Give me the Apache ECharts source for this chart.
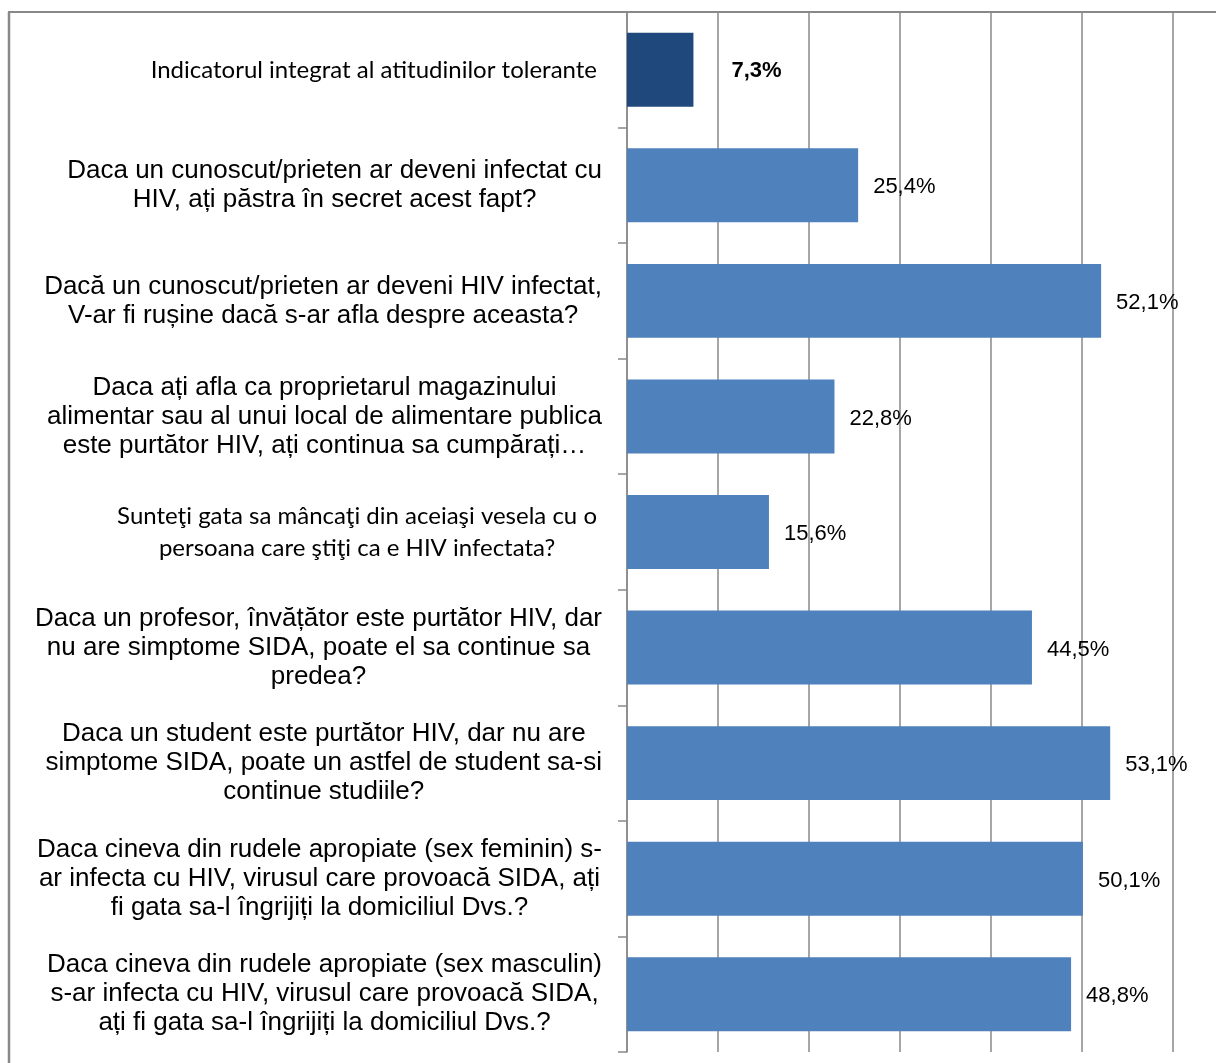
<!DOCTYPE html>
<html>
<head>
<meta charset="utf-8">
<script src="https://cdn.jsdelivr.net/npm/echarts@6/dist/echarts.min.js"></script>
<style>
  html, body { margin: 0; padding: 0; background: #fff; }
  #main { width: 1216px; height: 1063px; }
</style>
</head>
<body>
<div id="main"></div>
<script>
// categories, top to bottom
const categories = [
    'Indicatorul integrat al atitudinilor tolerante',
    'Daca un cunoscut/prieten ar deveni infectat cu\nHIV, ați păstra în secret acest fapt?',
    'Dacă un cunoscut/prieten ar deveni HIV infectat,\nV-ar fi rușine dacă s-ar afla despre aceasta?',
    'Daca ați afla ca proprietarul magazinului\nalimentar sau al unui local de alimentare publica\neste purtător HIV, ați continua sa cumpărați…',
    'Sunteţi gata sa mâncaţi din aceiaşi vesela cu o\npersoana care ştiţi ca e HIV infectata?',
    'Daca un profesor, învățător este purtător HIV, dar\nnu are simptome SIDA, poate el sa continue sa\npredea?',
    'Daca un student este purtător HIV, dar nu are\nsimptome SIDA, poate un astfel de student sa-si\ncontinue studiile?',
    'Daca cineva din rudele apropiate (sex feminin) s-\nar infecta cu HIV, virusul care provoacă SIDA, ați\nfi gata sa-l îngrijiți la domiciliul Dvs.?',
    'Daca cineva din rudele apropiate (sex masculin)\ns-ar infecta cu HIV, virusul care provoacă SIDA,\nați fi gata sa-l îngrijiți la domiciliul Dvs.?'
];
const values = [7.3, 25.4, 52.1, 22.8, 15.6, 44.5, 53.1, 50.1, 48.8];
// which label font each category uses (c = calibri-like, a = arial-like)
const labelFonts = ['c', 'a', 'a', 'a', 'c', 'a', 'a', 'a', 'a'];

const chart = echarts.init(document.getElementById('main'), null, { renderer: 'canvas' });

const pct = v => v.toFixed(1).replace('.', ',') + '%';

const seriesData = values.map((v, i) => {
    if (i === 0) {
        return {
            value: v,
            itemStyle: { color: '#1F497D' },
            label: { fontWeight: 'bold', fontSize: 22, distance: 38, offset: [0, 1] }
        };
    }
    return v;
});

const option = {
    backgroundColor: '#fff',
    animation: false,
    grid: { left: 627, top: 12, width: 637, bottom: 11, outerBoundsMode: 'none', containLabel: false },
    xAxis: {
        type: 'value',
        min: 0,
        max: 70,
        interval: 10,
        axisLine: { show: false },
        axisTick: { show: false },
        axisLabel: { show: false },
        splitLine: { show: true, lineStyle: { color: '#898989', width: 1.5 } }
    },
    yAxis: {
        type: 'category',
        inverse: true,
        data: categories,
        axisLine: { show: true, lineStyle: { color: '#898989', width: 1.5 } },
        axisTick: { show: true, length: 9, lineStyle: { color: '#898989', width: 1.5 } },
        axisLabel: {
            margin: 25,
            align: 'right',
            formatter: (val, idx) => val.split('\n').map(l => '{' + labelFonts[idx] + '|' + l + '}').join('\n'),
            rich: {
                a: { fontFamily: 'Liberation Sans', fontSize: 26, lineHeight: 29, color: '#000', align: 'center' },
                c: { fontFamily: 'Lato', fontSize: 24, lineHeight: 32, color: '#000', align: 'center', padding: [0, 5, 0, 0] }
            }
        }
    },
    series: [{
        type: 'bar',
        data: seriesData,
        barCategoryGap: '36%',
        itemStyle: { color: '#4F81BD' },
        label: {
            show: true,
            position: 'right',
            distance: 15,
            offset: [0, 2],
            fontFamily: 'Liberation Sans',
            fontSize: 22,
            color: '#000',
            formatter: p => pct(p.value)
        }
    }],
    graphic: [
        { type: 'line', shape: { x1: 9, y1: 12, x2: 9, y2: 1063 }, style: { stroke: '#898989', lineWidth: 2.5 } },
        { type: 'line', shape: { x1: 8, y1: 12, x2: 1216, y2: 12 }, style: { stroke: '#898989', lineWidth: 2 } }
    ]
};
chart.setOption(option);
</script>
</body>
</html>
